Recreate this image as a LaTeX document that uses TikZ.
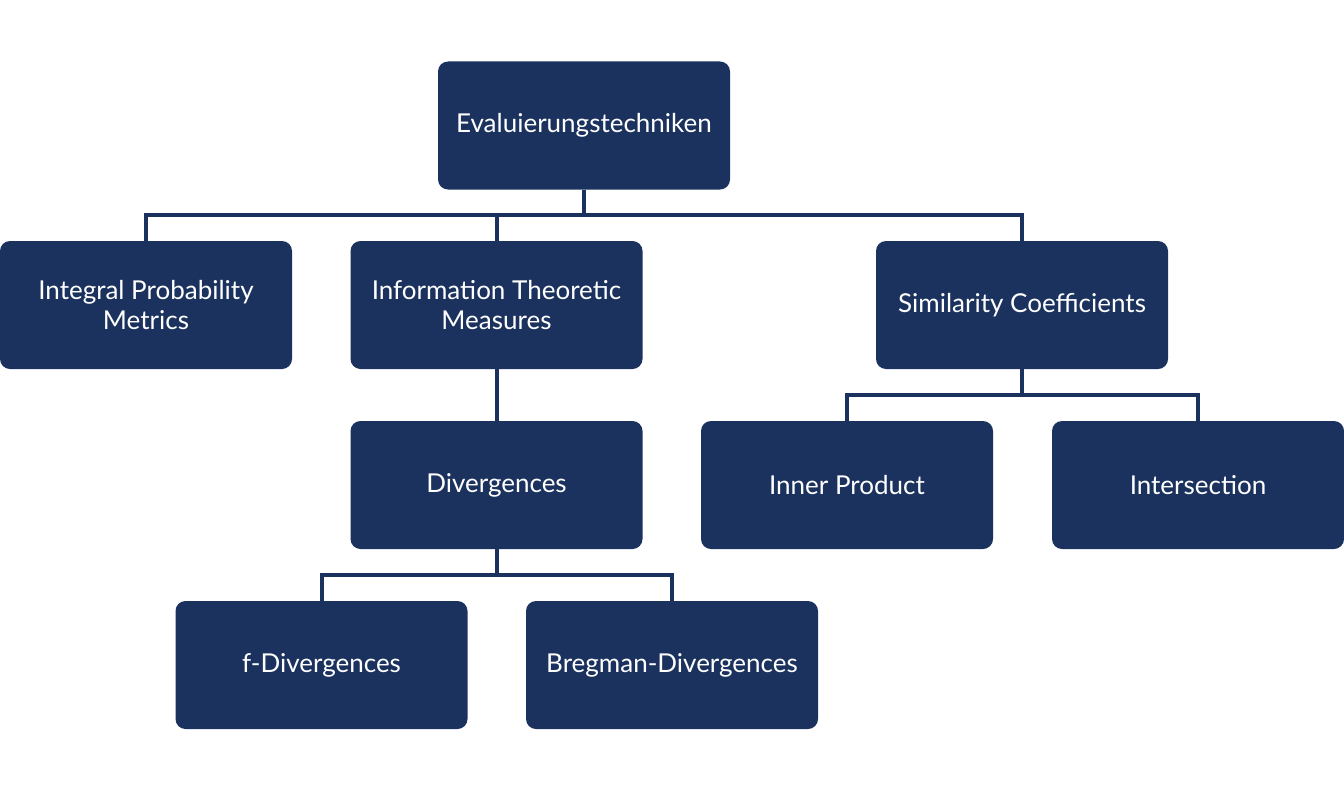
\documentclass[tikz,border=0pt]{standalone}
\usepackage{fontspec}
\setmainfont{Lato}
\definecolor{navy}{HTML}{1B325E}
\begin{document}
\begin{tikzpicture}[x=0.75pt,y=-0.75pt,
    box/.style={fill=navy,rounded corners=7.5pt,minimum width=219pt,minimum height=96pt,
        align=center,text=white,font=\fontsize{19.5}{22.5}\selectfont,inner sep=0pt},
    link/.style={draw=navy,line width=3pt}]
    \useasboundingbox (0,0) rectangle (1344,792);
    \node[box] (eval) at (584,125.5) {Evaluierungstechniken};
    \node[box] (ipm) at (146,305) {Integral Probability\\Metrics};
    \node[box] (itm) at (496.5,305) {Information Theoretic\\Measures};
    \node[box] (simc) at (1022,305) {Similarity Coefficients};
    \node[box] (div) at (496.5,485) {Divergences};
    \node[box] (inner) at (847,485) {Inner Product};
    \node[box] (inter) at (1198,485) {Intersection};
    \node[box] (fdiv) at (321.5,665) {f-Divergences};
    \node[box] (bdiv) at (672,665) {Bregman-Divergences};
    \draw[link] (eval.south) -- ++(0,25) -| (ipm.north);
    \draw[link] (eval.south) -- ++(0,25) -| (itm.north);
    \draw[link] (eval.south) -- ++(0,25) -| (simc.north);
    \draw[link] (itm.south) -- (div.north);
    \draw[link] (simc.south) -- ++(0,26) -| (inner.north);
    \draw[link] (simc.south) -- ++(0,26) -| (inter.north);
    \draw[link] (div.south) -- ++(0,26) -| (fdiv.north);
    \draw[link] (div.south) -- ++(0,26) -| (bdiv.north);
\end{tikzpicture}
\end{document}
